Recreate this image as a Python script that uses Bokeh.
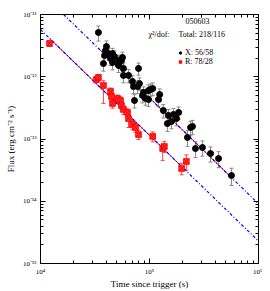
from bokeh.plotting import figure
from bokeh.models import (ColumnDataSource, Whisker, TeeHead, LogAxis, Label,
                          CustomJSTickFormatter, Legend, LegendItem, FixedTicker)
from bokeh.embed import file_html
from bokeh.resources import INLINE

# ---- data ----
x_time = [3.40e4, 3.78e4, 3.87e4, 3.95e4, 4.03e4, 4.21e4, 4.39e4, 4.58e4, 4.58e4, 4.77e4,
          5.20e4, 5.20e4, 5.53e4, 5.65e4, 5.77e4, 5.77e4, 6.42e4, 6.98e4, 7.13e4, 7.28e4,
          7.76e4, 7.93e4, 8.09e4, 8.62e4, 8.81e4, 9.19e4, 9.79e4, 1.02e5, 1.07e5, 9.79e4,
          1.21e5, 1.24e5, 1.34e5, 1.49e5, 1.46e5, 1.59e5, 1.66e5, 1.77e5, 1.85e5, 2.23e5,
          2.38e5, 2.48e5, 2.64e5, 3.06e5, 3.63e5, 4.30e5, 5.65e5]
x_flux = [5.14e-12, 1.63e-12, 2.19e-12, 2.64e-12, 3.06e-12, 2.36e-12, 1.96e-12, 2.36e-12, 1.69e-12, 2.11e-12,
          1.52e-12, 1.82e-12, 1.82e-12, 2.04e-12, 1.36e-12, 1.05e-12, 1.05e-12, 8.39e-13, 6.97e-13, 4.15e-13,
          6.97e-13, 1.36e-12, 7.79e-13, 5.00e-13, 5.58e-13, 4.48e-13, 6.01e-13, 6.24e-13, 6.47e-13, 4.31e-13,
          4.31e-13, 5.18e-13, 2.87e-13, 2.39e-13, 1.77e-13, 1.91e-13, 2.48e-13, 2.13e-13, 2.67e-13, 1.06e-13,
          1.53e-13, 1.59e-13, 7.03e-14, 7.30e-14, 5.85e-14, 4.86e-14, 2.59e-14]
x_err = [1.4e-12, 0.4e-12, 0.5e-12, 0.6e-12, 0.7e-12, 0.5e-12, 0.45e-12, 0.5e-12, 0.4e-12, 0.5e-12,
         0.35e-12, 0.4e-12, 0.4e-12, 0.45e-12, 0.3e-12, 0.25e-12, 0.25e-12, 2.0e-13, 1.6e-13, 1.0e-13,
         1.6e-13, 0.3e-12, 1.8e-13, 1.2e-13, 1.3e-13, 1.0e-13, 1.4e-13, 1.4e-13, 1.5e-13, 1.0e-13,
         1.0e-13, 1.2e-13, 0.7e-13, 0.6e-13, 0.45e-13, 0.45e-13, 0.6e-13, 0.5e-13, 0.6e-13, 0.3e-13,
         0.4e-13, 0.4e-13, 2.0e-14, 2.0e-14, 1.6e-14, 1.4e-14, 0.8e-14]

r_time = [1.21e4, 3.26e4, 3.40e4, 3.78e4, 4.39e4, 4.48e4, 4.58e4, 5.09e4, 5.42e4, 5.53e4,
          5.77e4, 6.28e4, 6.42e4, 6.98e4, 7.44e4, 7.93e4, 1.07e5, 1.32e5, 1.37e5, 1.97e5, 2.18e5]
r_flux = [3.42e-12, 9.03e-13, 9.73e-13, 7.23e-13, 5.79e-13, 4.82e-13, 3.72e-13, 4.48e-13, 4.15e-13, 3.45e-13,
          2.98e-13, 2.67e-13, 2.13e-13, 1.71e-13, 1.53e-13, 1.18e-13, 1.10e-13, 7.03e-14, 7.58e-14, 3.36e-14, 4.35e-14]
r_err_lo = [0.35e-12, 1.0e-13, 1.1e-13, 3.5e-13, 0.8e-13, 0.7e-13, 0.6e-13, 0.6e-13, 0.6e-13, 0.5e-13,
            0.5e-13, 0.4e-13, 0.6e-13, 0.3e-13, 0.25e-13, 0.2e-13, 0.2e-13, 2.5e-14, 1.5e-14, 0.7e-14, 1.2e-14]
r_err_hi = [0.35e-12, 1.0e-13, 1.1e-13, 1.4e-13, 0.8e-13, 0.7e-13, 0.6e-13, 0.6e-13, 0.6e-13, 0.5e-13,
            0.5e-13, 0.4e-13, 0.6e-13, 0.3e-13, 0.25e-13, 0.2e-13, 0.2e-13, 1.2e-14, 1.5e-14, 0.7e-14, 1.2e-14]

# fitted power-law models (endpoints)
fit_x_full_t = [1e4, 1e6]
fit_x_full_f = [2.29e-11, 9.1e-15]
fit_x_data_t = [3.40e4, 5.65e5]
fit_x_data_f = [2.86e-12, 2.40e-14]
fit_r_full_t = [1e4, 1e6]
fit_r_full_f = [5.74e-12, 2.29e-15]
fit_r_data_t = [1.21e4, 2.18e5]
fit_r_data_f = [4.15e-12, 3.05e-14]

# axis ticks
x_decades = [1e4, 1e5, 1e6]
y_decades = [1e-15, 1e-14, 1e-13, 1e-12, 1e-11]
minor_mult = [2, 3, 4, 5, 6, 7, 8, 9]

title_txt = "050603"
chi_txt = "χ²/dof:"
total_txt = "Total: 218/116"
x_lab = "X: 56/58"
r_lab = "R: 78/28"

FONT = "Liberation Serif"

p = figure(frame_width=218, frame_height=249, x_axis_type="log", y_axis_type="log",
           x_range=(1e4, 1e6), y_range=(1e-15, 1e-11),
           output_backend="svg", toolbar_location=None,
           min_border_left=40, min_border_right=4, min_border_top=14, min_border_bottom=24)
p.xgrid.visible = False
p.ygrid.visible = False
p.outline_line_color = "black"
p.background_fill_color = "white"
p.border_fill_color = "white"

x_ticker = FixedTicker(ticks=x_decades,
                       minor_ticks=[d * m for d in x_decades[:-1] for m in minor_mult])
y_ticker = FixedTicker(ticks=y_decades,
                       minor_ticks=[d * m for d in y_decades[:-1] for m in minor_mult])

sup = CustomJSTickFormatter(code="""
const m = {'-':'\u207b','0':'\u2070','1':'\u00b9','2':'\u00b2','3':'\u00b3','4':'\u2074',
           '5':'\u2075','6':'\u2076','7':'\u2077','8':'\u2078','9':'\u2079'};
const e = Math.round(Math.log10(tick));
return '10' + String(e).split('').map(c => m[c]).join('');
""")
blank = CustomJSTickFormatter(code="return '';")

def style_axis(ax):
    ax.major_tick_in = 5
    ax.major_tick_out = 0
    ax.minor_tick_in = 3
    ax.minor_tick_out = 0
    ax.axis_line_color = "black"
    ax.major_tick_line_color = "black"
    ax.minor_tick_line_color = "black"
    ax.major_label_text_font = FONT
    ax.major_label_text_font_size = "7px"
    ax.major_label_text_color = "black"
    ax.axis_label_text_font = FONT
    ax.axis_label_text_font_size = "9px"
    ax.axis_label_text_font_style = "normal"
    ax.axis_label_text_color = "black"

p.xaxis[0].ticker = x_ticker
p.yaxis[0].ticker = y_ticker
for ax in (p.xaxis[0], p.yaxis[0]):
    style_axis(ax)
    ax.formatter = sup
p.xaxis[0].axis_label = "Time since trigger (s)"
p.yaxis[0].axis_label = "Flux (erg cm\u207b\u00b2 s\u207b\u00b9)"
p.xaxis[0].major_label_standoff = 4
p.xaxis[0].axis_label_standoff = 0
p.yaxis[0].major_label_standoff = 4
p.yaxis[0].axis_label_standoff = 4

top = LogAxis(formatter=blank, ticker=x_ticker)
right = LogAxis(formatter=blank, ticker=y_ticker)
for ax in (top, right):
    style_axis(ax)
    ax.major_label_text_font_size = "0px"
    ax.major_label_standoff = 0
p.add_layout(top, "above")
p.add_layout(right, "right")

# fit lines
p.line(fit_x_data_t, fit_x_data_f, line_color="red", line_width=1)
p.line(fit_r_data_t, fit_r_data_f, line_color="red", line_width=1)
p.line(fit_x_full_t, fit_x_full_f, line_color="blue", line_width=1.2, line_dash="3 2 1 2")
p.line(fit_r_full_t, fit_r_full_f, line_color="blue", line_width=1.2, line_dash="3 2 1 2")

# X-ray data
xs = ColumnDataSource(dict(t=x_time, f=x_flux,
                           lo=[f - e for f, e in zip(x_flux, x_err)],
                           hi=[f + e for f, e in zip(x_flux, x_err)]))
p.add_layout(Whisker(source=xs, base="t", lower="lo", upper="hi", line_color="#888888",
                     line_width=1,
                     upper_head=TeeHead(size=4, line_color="#888888", line_width=1),
                     lower_head=TeeHead(size=4, line_color="#888888", line_width=1)))
xr = p.scatter("t", "f", source=xs, marker="circle", size=6, fill_color="black", line_color="black")

# R-band data
rs = ColumnDataSource(dict(t=r_time, f=r_flux,
                           lo=[f - e for f, e in zip(r_flux, r_err_lo)],
                           hi=[f + e for f, e in zip(r_flux, r_err_hi)]))
p.add_layout(Whisker(source=rs, base="t", lower="lo", upper="hi", line_color="#ff4444",
                     line_width=1,
                     upper_head=TeeHead(size=4, line_color="#ff4444", line_width=1),
                     lower_head=TeeHead(size=4, line_color="#ff4444", line_width=1)))
rr = p.scatter("t", "f", source=rs, marker="square_x", size=5.5, fill_color="#ff3333",
               line_color="#ff0000")

# annotation block (screen units relative to the plot frame)
p.add_layout(Label(x=157, y=243, x_units="screen", y_units="screen", text=title_txt,
                   text_align="center", text_baseline="middle", text_font=FONT,
                   text_font_size="8px", text_color="black"))
p.add_layout(Label(x=108, y=229, x_units="screen", y_units="screen", text=chi_txt,
                   text_align="left", text_baseline="middle", text_font=FONT,
                   text_font_size="8px", text_color="black"))
p.add_layout(Label(x=138, y=229, x_units="screen", y_units="screen", text=total_txt,
                   text_align="left", text_baseline="middle", text_font=FONT,
                   text_font_size="8px", text_color="black"))

leg = Legend(items=[LegendItem(label=x_lab, renderers=[xr]),
                    LegendItem(label=r_lab, renderers=[rr])],
             location=(137, 197), padding=0, spacing=0, margin=0,
             label_height=9, glyph_height=9, glyph_width=6, label_standoff=2,
             label_text_font=FONT, label_text_font_size="8px", label_text_color="black",
             background_fill_alpha=0, border_line_alpha=0)
p.add_layout(leg)

open("out.html", "w").write(file_html(p, INLINE))
